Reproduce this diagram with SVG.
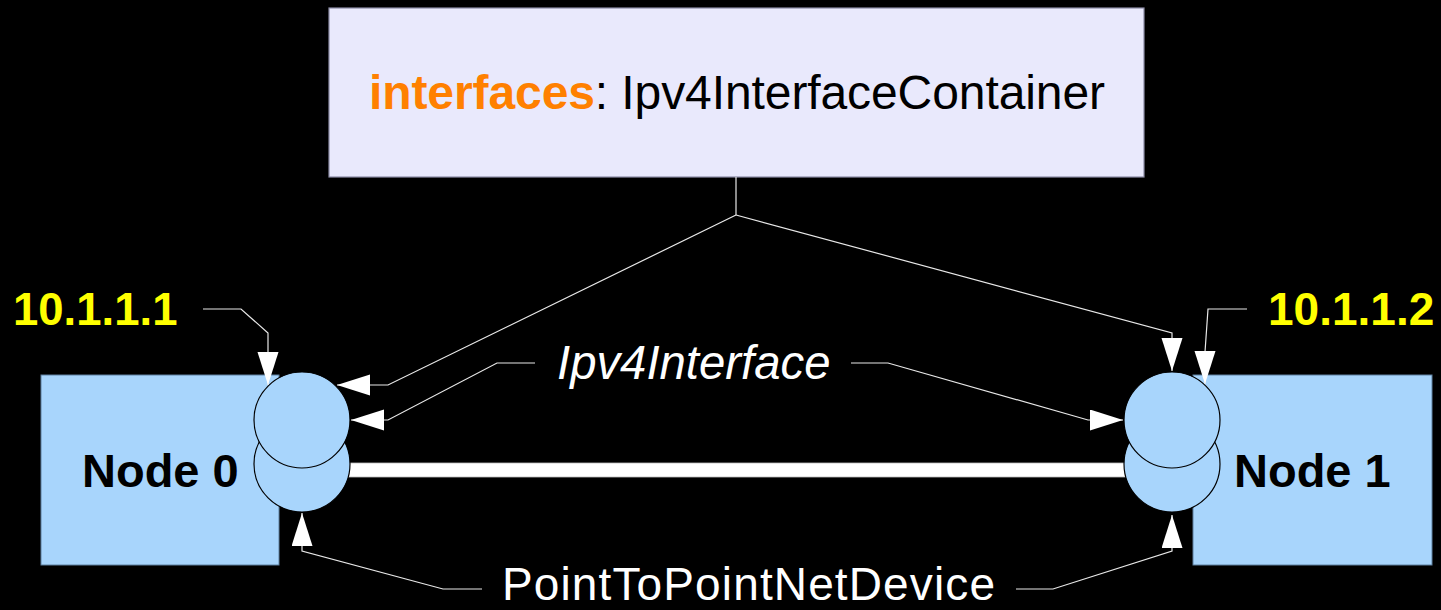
<svg xmlns="http://www.w3.org/2000/svg" width="1441" height="610" viewBox="0 0 1441 610">
  <style>
    .label { font-family: "Liberation Sans", Arial, sans-serif; }
    .node { fill: #a8d5fc; stroke: #5f80a0; stroke-width: 1; }
    .iface { fill: #a8d5fc; stroke: #000; stroke-width: 1.2; }
    .conn { fill: none; stroke: #e8e8e8; stroke-width: 1.2; marker-end: url(#head); }
    .plain { fill: none; stroke: #e8e8e8; stroke-width: 1.2; }
  </style>
  <defs>
    <marker id="head" markerUnits="userSpaceOnUse" markerWidth="34" markerHeight="22" refX="33" refY="10.5" orient="auto">
      <path d="M0,0 L33,10.5 L0,21 Z" fill="#ffffff"/>
    </marker>
  </defs>

  <rect width="1441" height="610" fill="#000"/>

  <!-- container object -->
  <g id="container">
    <rect x="329" y="8" width="815" height="169" fill="#e9e9fc" stroke="#8c8ca6" stroke-width="1.2"/>
    <text class="label" x="369" y="109" font-size="48" textLength="736" lengthAdjust="spacing"><tspan fill="#ff8000" font-weight="bold">interfaces</tspan><tspan fill="#000">: Ipv4InterfaceContainer</tspan></text>
  </g>

  <!-- point-to-point link -->
  <g id="link">
    <rect x="345" y="463" width="784" height="14" fill="#fff" stroke="#bbb" stroke-width="0.8"/>
  </g>

  <g id="node0">
    <rect class="node" x="41" y="375" width="238" height="190"/>
    <text class="label" x="82" y="487" font-size="47" font-weight="bold" fill="#000">Node 0</text>
    <circle class="iface" cx="302" cy="464" r="48"/>
    <circle class="iface" cx="302" cy="420" r="48"/>
  </g>

  <g id="node1">
    <rect class="node" x="1193" y="375" width="239" height="190"/>
    <text class="label" x="1234" y="487" font-size="47" font-weight="bold" fill="#000">Node 1</text>
    <circle class="iface" cx="1172" cy="464" r="48"/>
    <circle class="iface" cx="1172" cy="420" r="48"/>
  </g>

  <g id="addr0">
    <text class="label" x="13" y="325" font-size="45.5" font-weight="bold" fill="#ffff00">10.1.1.1</text>
  </g>
  <g id="addr1">
    <text class="label" x="1268" y="325" font-size="46" font-weight="bold" fill="#ffff00">10.1.1.2</text>
  </g>

  <g id="ipv4iface-label">
    <text class="label" x="557" y="379" font-size="47.3" font-style="italic" fill="#fff">Ipv4Interface</text>
  </g>
  <g id="netdevice-label">
    <text class="label" x="502" y="600" font-size="46" textLength="493" lengthAdjust="spacing" fill="#fff">PointToPointNetDevice</text>
  </g>

  <g id="connectors">
    <!-- container to both interfaces -->
    <polyline class="plain" points="736,177 736,215"/>
    <polyline class="conn" points="736,215 388,385 337,385"/>
    <polyline class="conn" points="736,215 1172,333 1172,371"/>
    <!-- address callouts -->
    <polyline class="conn" points="203,309 241,309 268,333 268,385"/>
    <polyline class="conn" points="1247,309 1208,309 1205,352 1205,384"/>
    <!-- Ipv4Interface callouts -->
    <polyline class="conn" points="535,363 497,363 388,420 351,420"/>
    <polyline class="conn" points="851,363 888,363 1088,420 1123,420"/>
    <!-- PointToPointNetDevice callouts -->
    <polyline class="conn" points="482,589 443,589 302,551 302,513"/>
    <polyline class="conn" points="1016,589 1053,589 1172,551 1172,515"/>
  </g>
</svg>
